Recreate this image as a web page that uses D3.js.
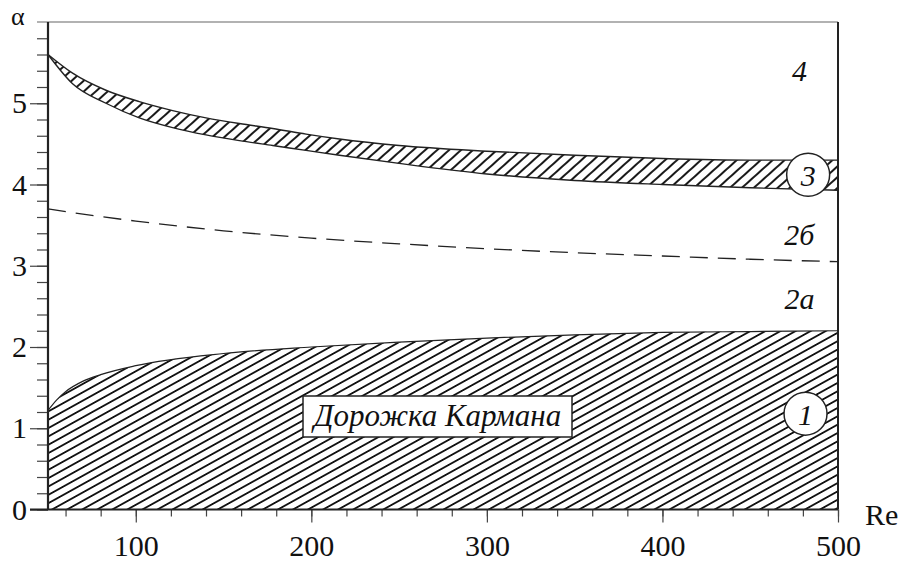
<!DOCTYPE html>
<html><head><meta charset="utf-8">
<script src="https://cdn.jsdelivr.net/npm/d3@7"></script>
<style>
html,body{margin:0;padding:0;background:#fff;}
svg{display:block;}
</style></head>
<body>
<svg id="chart" width="903" height="562"></svg>
<script>
// ---- data ----
const xMajorTicks = [100, 200, 300, 400, 500];
const yMajorTicks = [0, 1, 2, 3, 4, 5];
const re3 = [50, 64, 83, 102, 121, 140, 159, 178, 197, 216, 250, 300, 350, 400, 450, 500];
const upper3 = [5.6, 5.37, 5.16, 5.02, 4.91, 4.82, 4.75, 4.69, 4.62, 4.56, 4.48, 4.41, 4.36, 4.32, 4.30, 4.30];
const lower3 = [5.6, 5.24, 5.0, 4.82, 4.70, 4.61, 4.54, 4.48, 4.42, 4.36, 4.26, 4.13, 4.05, 4.00, 3.96, 3.93];
const reDash = [50, 75, 100, 150, 200, 250, 300, 350, 400, 450, 500];
const dashed = [3.70, 3.62, 3.55, 3.43, 3.34, 3.27, 3.21, 3.16, 3.12, 3.08, 3.05];
const re1 = [50, 55, 60, 70, 80, 100, 150, 200, 250, 300, 350, 400, 450, 500];
const karman = [1.22, 1.35, 1.45, 1.58, 1.66, 1.77, 1.92, 2.0, 2.06, 2.11, 2.15, 2.18, 2.19, 2.2];
const regionLabels = [
  {re: 478, a: 5.4, text: "4"},
  {re: 478, a: 3.38, text: "2б"},
  {re: 478, a: 2.6, text: "2a"}
];
const circleLabels = [
  {re: 483, a: 4.12, text: "3"},
  {re: 481.5, a: 1.18, text: "1"}
];
const boxLabel = {re: 196, a: 1.05, text: "Дорожка Кармана"};

// ---- scales ----
const svg = d3.select("#chart");
const x = d3.scaleLinear().domain([50, 500]).range([48, 838]);
const y = d3.scaleLinear().domain([0, 6]).range([509.5, 22]);
const FONT = "'Times New Roman', Times, 'Liberation Serif', 'DejaVu Serif', serif";

// patterns
const defs = svg.append("defs");
function hatch(id, angle, gap, w) {
  const p = defs.append("pattern").attr("id", id)
    .attr("patternUnits", "userSpaceOnUse")
    .attr("width", 20).attr("height", gap)
    .attr("patternTransform", `rotate(${-angle})`);
  p.append("line").attr("x1", 0).attr("x2", 20)
    .attr("y1", gap / 2).attr("y2", gap / 2)
    .attr("stroke", "#000").attr("stroke-width", w);
}
hatch("h1", 29, 7.3, 1.7);
hatch("h3", 42, 8.0, 1.8);

const zip = (xs, ys) => xs.map((v, i) => [v, ys[i]]);
const curve = d3.curveMonotoneX;

// region 1 (Karman street)
const d1 = zip(re1, karman);
svg.append("path").datum(d1)
  .attr("d", d3.area().x(d => x(d[0])).y0(y(0)).y1(d => y(d[1])).curve(curve))
  .attr("fill", "url(#h1)");
svg.append("path").datum(d1)
  .attr("d", d3.line().x(d => x(d[0])).y(d => y(d[1])).curve(curve))
  .attr("fill", "none").attr("stroke", "#222").attr("stroke-width", 1.2);

// region 3 band
const d3b = re3.map((r, i) => ({r, u: upper3[i], l: lower3[i]}));
svg.append("path").datum(d3b)
  .attr("d", d3.area().x(d => x(d.r)).y0(d => y(d.l)).y1(d => y(d.u)).curve(curve))
  .attr("fill", "url(#h3)");
svg.append("path").datum(d3b)
  .attr("d", d3.line().x(d => x(d.r)).y(d => y(d.u)).curve(curve))
  .attr("fill", "none").attr("stroke", "#222").attr("stroke-width", 1.4);
svg.append("path").datum(d3b)
  .attr("d", d3.line().x(d => x(d.r)).y(d => y(d.l)).curve(curve))
  .attr("fill", "none").attr("stroke", "#222").attr("stroke-width", 1.4);

// dashed boundary
svg.append("path").datum(zip(reDash, dashed))
  .attr("d", d3.line().x(d => x(d[0])).y(d => y(d[1])).curve(curve))
  .attr("fill", "none").attr("stroke", "#222").attr("stroke-width", 1.3)
  .attr("stroke-dasharray", "18,10");

// frame: top and right
svg.append("line").attr("x1", 37).attr("x2", x(500)).attr("y1", y(6)).attr("y2", y(6))
  .attr("stroke", "#666").attr("stroke-width", 1.2);
svg.append("line").attr("x1", x(500)).attr("x2", x(500)).attr("y1", y(6)).attr("y2", y(0))
  .attr("stroke", "#222").attr("stroke-width", 2);

// axes
const yMinor = d3.range(0, 30).map(i => i * 0.2);
const xMinor = d3.range(60, 501, 20);
const yAxisMinor = d3.axisLeft(y).tickValues(yMinor).tickSize(11).tickFormat("");
const yAxisMajor = d3.axisLeft(y).tickValues(yMajorTicks).tickSize(18).tickPadding(3).tickFormat(d3.format("d"));
const xAxisMinor = d3.axisBottom(x).tickValues(xMinor).tickSize(7).tickFormat("");
const xAxisMajor = d3.axisBottom(x).tickValues(xMajorTicks).tickSize(13).tickPadding(13).tickFormat(d3.format("d"));

function styleAxis(g) {
  g.attr("font-family", FONT);
  g.select(".domain").remove();
  g.selectAll(".tick line").attr("stroke", "#444").attr("stroke-width", 1.2);
  g.selectAll(".tick text").attr("font-family", FONT)
    .attr("font-size", 30).attr("fill", "#111");
}
svg.append("g").attr("transform", `translate(${x(50)},0)`).call(yAxisMinor).call(styleAxis);
svg.append("g").attr("transform", `translate(${x(50)},0)`).call(yAxisMajor).call(styleAxis);
svg.append("g").attr("transform", `translate(0,${y(0)})`).call(xAxisMinor).call(styleAxis);
svg.append("g").attr("transform", `translate(0,${y(0)})`).call(xAxisMajor).call(styleAxis)
  .selectAll(".tick text").attr("dy", "0.69em");

// axis lines
svg.append("line").attr("x1", x(50)).attr("x2", x(50)).attr("y1", y(6)).attr("y2", y(0))
  .attr("stroke", "#222").attr("stroke-width", 2.2);
svg.append("line").attr("x1", 30).attr("x2", x(500)).attr("y1", y(0)).attr("y2", y(0))
  .attr("stroke", "#222").attr("stroke-width", 2);

// axis titles
svg.append("text").attr("x", 11).attr("y", 25).attr("font-size", 26).attr("font-family", FONT)
  .attr("fill", "#111").text("α");
svg.append("text").attr("x", 865).attr("y", 525).attr("font-size", 30).attr("font-family", FONT)
  .attr("fill", "#111").text("Re");

// region labels
svg.selectAll(".rl").data(regionLabels).enter().append("text")
  .attr("x", d => x(d.re)).attr("y", d => y(d.a))
  .attr("text-anchor", "middle").attr("dominant-baseline", "central")
  .attr("font-style", "italic").attr("font-size", 30).attr("font-family", FONT).attr("fill", "#111")
  .text(d => d.text);

// circles
const cg = svg.selectAll(".cl").data(circleLabels).enter().append("g");
cg.append("circle").attr("cx", d => x(d.re)).attr("cy", d => y(d.a)).attr("r", 21.5)
  .attr("fill", "#fff").attr("stroke", "#222").attr("stroke-width", 1.5);
cg.append("text").attr("x", d => x(d.re)).attr("y", d => y(d.a) + 1)
  .attr("text-anchor", "middle").attr("dominant-baseline", "central")
  .attr("font-style", "italic").attr("font-size", 30).attr("font-family", FONT).attr("fill", "#111")
  .text(d => d.text);

// box label
svg.append("rect").attr("x", 303).attr("y", 396).attr("width", 269).attr("height", 41)
  .attr("fill", "#fff").attr("stroke", "#222").attr("stroke-width", 1.5);
svg.append("text").attr("x", 437.5).attr("y", 426)
  .attr("text-anchor", "middle").attr("font-style", "italic").attr("font-size", 31)
  .attr("font-family", FONT).attr("fill", "#111").text(boxLabel.text);
</script>
</body></html>
